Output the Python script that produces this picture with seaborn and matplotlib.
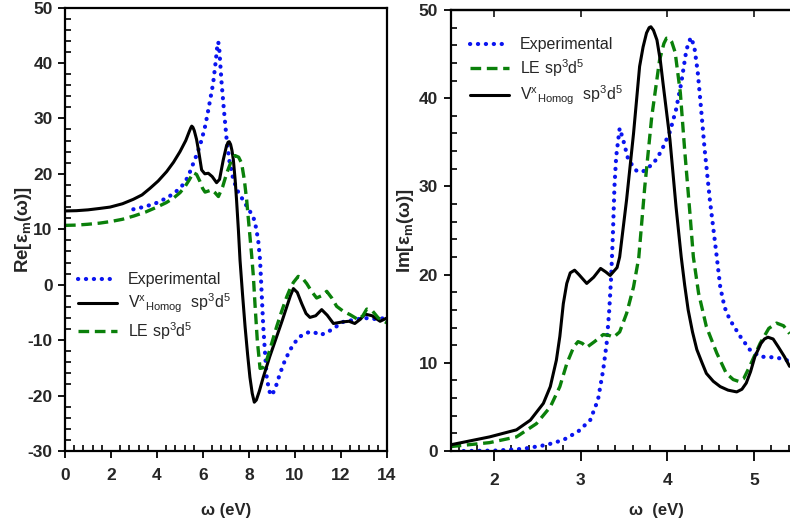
import numpy as np
import pandas as pd
import matplotlib
matplotlib.use("Agg")
from matplotlib import pyplot as plt
from matplotlib.ticker import MultipleLocator
import seaborn as sns

# ---- Re part (left panel) ----
re_exp_w = [2.97, 3.5, 3.98, 4.4, 4.71, 5.0, 5.22, 5.4, 5.58, 5.76, 5.94, 6.1, 6.23, 6.34, 6.44, 6.56,
            6.62, 6.66, 6.70, 6.74, 6.81, 6.91, 7.03, 7.15, 7.32, 7.52, 7.75, 8.0, 8.19, 8.3, 8.4, 8.48,
            8.55, 8.62, 8.7, 8.77, 8.88, 8.99, 9.15, 9.35, 9.55, 9.78, 10.0, 10.2, 10.45, 10.65, 10.85,
            11.09, 11.4, 11.67, 12.1, 12.5, 13.0, 13.5, 14.0]
re_exp = [13.6, 14.1, 14.75, 15.6, 16.4, 17.4, 18.5, 20.0, 21.9, 23.8, 26.1, 28.7, 31.5, 34.0, 36.3, 40.5,
          43.0, 43.8, 43.0, 40.5, 36.3, 31.5, 26.1, 22.3, 18.9, 16.8, 15.2, 13.5, 12.2, 10.4, 8.0, 4.5,
          -1.5, -7.6, -12.5, -16.7, -19.2, -20.0, -18.6, -16.0, -13.8, -11.8, -10.4, -9.4, -8.8, -8.5, -8.6,
          -9.1, -8.6, -7.9, -6.7, -6.4, -6.0, -6.2, -6.0]

re_vx_w = [0.0, 0.5, 1.0, 1.5, 1.96, 2.5, 2.97, 3.35, 3.7, 4.05, 4.42, 4.72, 5.0, 5.25, 5.4, 5.47, 5.51,
           5.56, 5.62, 5.72, 5.83, 5.94, 6.08, 6.23, 6.4, 6.59, 6.72, 6.88, 7.02, 7.09, 7.14, 7.2, 7.26,
           7.32, 7.4, 7.46, 7.54, 7.61, 7.72, 7.83, 7.94, 8.04, 8.14, 8.23, 8.32, 8.45, 8.62, 8.9, 9.2,
           9.45, 9.64, 9.8, 9.93, 10.1, 10.29, 10.48, 10.65, 10.9, 11.16, 11.4, 11.67, 12.1, 12.35, 12.6,
           12.85, 13.04, 13.35, 13.7, 14.0]
re_vx = [13.3, 13.35, 13.5, 13.75, 14.0, 14.6, 15.4, 16.2, 17.4, 18.7, 20.4, 22.1, 24.0, 26.0, 27.6, 28.3,
         28.6, 28.4, 27.8, 26.2, 23.6, 20.7, 20.0, 20.1, 19.5, 18.4, 19.0, 22.5, 25.0, 25.7, 25.8, 25.3, 24.2,
         22.5, 18.8, 15.2, 9.8, 4.4, -1.8, -7.6, -12.6, -16.7, -19.6, -21.2, -20.8, -19.2, -16.7, -13.0, -9.4,
         -6.4, -4.0, -2.0, -0.7, -1.4, -3.4, -5.2, -5.9, -5.6, -4.5, -5.5, -7.0, -6.7, -6.6, -7.0,
         -6.2, -5.3, -5.6, -6.6, -6.0]

re_le_w = [0.0, 0.5, 1.0, 1.5, 2.0, 2.5, 3.0, 3.5, 4.0, 4.4, 4.71, 5.0, 5.22, 5.4, 5.58, 5.72, 5.87, 5.98,
           6.09, 6.24, 6.38, 6.52, 6.67, 6.85, 7.03, 7.22, 7.39, 7.55, 7.68, 7.8, 7.9, 8.0, 8.12, 8.19,
           8.26, 8.36, 8.48, 8.6, 8.77, 9.0, 9.2, 9.42, 9.64, 9.8, 9.93, 10.14, 10.32, 10.51, 10.72,
           10.94, 11.15, 11.38, 11.6, 11.81, 12.1, 12.39, 12.75, 12.95, 13.12, 13.38, 13.62, 14.0]
re_le = [10.7, 10.75, 10.9, 11.1, 11.4, 11.8, 12.4, 13.1, 14.0, 14.8, 15.6, 16.6, 17.7, 18.9, 20.2, 19.9, 18.6, 17.4,
         16.7, 16.9, 17.1, 16.6, 15.9, 17.6, 20.1, 22.2, 23.3, 23.0, 21.9, 18.8, 15.2, 10.6, 5.1, 1.5,
         -3.5, -10.0, -15.1, -15.0, -13.6, -10.4, -7.6, -4.8, -2.2, -0.6, 0.4, 1.5, 1.2, 0.2, -1.2,
         -2.4, -2.0, -1.2, -2.4, -3.9, -4.8, -5.4, -6.3, -5.6, -4.4, -4.8, -6.0, -6.9]

# ---- Im part (right panel) ----
im_exp_w = [1.65, 2.03, 2.34, 2.61, 2.8, 2.97, 3.11, 3.2, 3.26, 3.3, 3.33, 3.35, 3.37, 3.39, 3.41, 3.45,
            3.49, 3.55, 3.65, 3.72, 3.84, 3.93, 4.03, 4.1, 4.16, 4.22, 4.27, 4.31, 4.35, 4.38, 4.43,
            4.49, 4.57, 4.61, 4.66, 4.72, 4.84, 4.95, 5.07, 5.26, 5.41]
im_exp = [0.0, 0.05, 0.25, 0.7, 1.25, 2.2, 3.5, 5.8, 9.2, 12.2, 16.0, 19.4, 24.0, 30.0, 33.4, 36.6,
          35.3, 33.0, 31.7, 31.7, 32.6, 34.0, 36.2, 38.7, 41.7, 45.5, 46.9, 45.9, 43.0, 39.8, 34.2,
          28.5, 22.0, 18.6, 16.3, 14.9, 13.0, 11.5, 10.7, 10.6, 10.2]

im_le_w = [1.5, 1.95, 2.26, 2.49, 2.65, 2.76, 2.84, 2.92, 2.97, 3.02, 3.07, 3.16, 3.26, 3.33, 3.38, 3.45,
           3.53, 3.61, 3.67, 3.74, 3.82, 3.91, 3.96, 3.99, 4.02, 4.05, 4.09, 4.15, 4.2, 4.26, 4.3, 4.36,
           4.45, 4.57, 4.68, 4.76, 4.82, 4.88, 4.95, 5.07, 5.17, 5.26, 5.34, 5.41]
im_le = [0.5, 0.95, 1.6, 3.1, 5.0, 7.3, 9.9, 11.8, 12.4, 12.2, 11.75, 12.4, 13.2, 13.1, 12.9, 13.5,
         15.6, 18.6, 21.9, 30.0, 37.9, 44.3, 46.2, 46.8, 46.8, 46.4, 45.2, 40.6, 34.1, 27.0, 22.0, 17.9,
         14.1, 11.1, 8.8, 8.1, 7.9, 8.2, 9.6, 12.2, 13.9, 14.5, 14.2, 13.3]

im_vx_w = [1.5, 1.95, 2.26, 2.42, 2.57, 2.65, 2.72, 2.76, 2.8, 2.84, 2.88, 2.93, 2.98, 3.07, 3.15, 3.23,
           3.29, 3.34, 3.42, 3.45, 3.53, 3.61, 3.68, 3.72, 3.76, 3.79, 3.81, 3.84, 3.88, 3.92, 3.95, 4.03,
           4.1, 4.16, 4.2, 4.24, 4.29, 4.34, 4.4, 4.45, 4.53, 4.61, 4.7, 4.8, 4.86, 4.91, 4.96, 5.01,
           5.08, 5.12, 5.16, 5.22, 5.28, 5.35, 5.41]
im_vx = [0.7, 1.6, 2.4, 3.5, 5.4, 7.3, 10.3, 13.0, 16.7, 19.0, 20.2, 20.5, 20.0, 19.0, 19.7, 20.7,
         20.3, 19.9, 20.8, 22.0, 28.5, 36.0, 43.6, 45.8, 47.4, 48.0, 48.1, 47.7, 46.6, 44.2, 41.7, 35.3,
         27.7, 22.0, 18.8, 16.0, 13.5, 11.5, 10.0, 8.8, 7.9, 7.3, 6.9, 6.7, 7.0, 7.7, 9.0, 10.7,
         12.2, 12.7, 12.9, 12.7, 11.8, 10.7, 9.6]

lab_exp = "Experimental"
lab_vx = "V$^{\\mathrm{x}}$$_{\\mathrm{Homog}}$  sp$^{3}$d$^{5}$"
lab_le = "LE sp$^{3}$d$^{5}$"

c_exp = "#0a14f0"
c_le = "#0a800a"
c_vx = "black"

sns.set_style("white")
plt.rcParams["font.family"] = ["Liberation Sans", "DejaVu Sans"]
plt.rcParams["axes.unicode_minus"] = False
plt.rcParams["mathtext.fontset"] = "custom"
plt.rcParams["mathtext.rm"] = "Liberation Sans"
plt.rcParams["mathtext.it"] = "Liberation Sans:italic"
plt.rcParams["mathtext.bf"] = "Liberation Sans:bold"

dot = dict(linestyle=(0, (0.05, 1.85)), dash_capstyle="round", lw=3.0, color=c_exp)
dash = dict(linestyle=(0, (3.2, 1.7)), lw=2.4, color=c_le)
solid = dict(linestyle="-", lw=2.2, color=c_vx)

fig = plt.figure(figsize=(7.9, 5.19), dpi=100)
W, H = 790, 519
ax1 = fig.add_axes([65 / W, 1 - 451 / H, (387 - 65) / W, (451 - 7.5) / H])
ax2 = fig.add_axes([450.6 / W, 1 - 451 / H, 346.8 / W, (451 - 10) / H])

# left: real part
sns.lineplot(x=re_exp_w, y=re_exp, ax=ax1, label=lab_exp, **dot)
sns.lineplot(x=re_vx_w, y=re_vx, ax=ax1, label=lab_vx, **solid)
sns.lineplot(x=re_le_w, y=re_le, ax=ax1, label=lab_le, **dash)

# right: imaginary part
sns.lineplot(x=im_exp_w, y=im_exp, ax=ax2, label=lab_exp, **dot)
sns.lineplot(x=im_le_w, y=im_le, ax=ax2, label=lab_le, **dash)
sns.lineplot(x=im_vx_w, y=im_vx, ax=ax2, label=lab_vx, **solid)

ax1.set_xlim(0, 14)
ax1.set_ylim(-30, 50)
ax2.set_xlim(1.5, 5.5)
ax2.set_ylim(0, 50)

ax1.xaxis.set_major_locator(MultipleLocator(2))
ax1.xaxis.set_minor_locator(MultipleLocator(0.4))
ax1.yaxis.set_major_locator(MultipleLocator(10))
ax1.yaxis.set_minor_locator(MultipleLocator(2))
ax2.xaxis.set_major_locator(MultipleLocator(1))
ax2.xaxis.set_minor_locator(MultipleLocator(0.2))
ax2.yaxis.set_major_locator(MultipleLocator(10))
ax2.yaxis.set_minor_locator(MultipleLocator(2))

for ax in (ax1, ax2):
    for s in ax.spines.values():
        s.set_linewidth(1.6)
        s.set_color("black")
    ax.tick_params(which="major", direction="out", length=5, width=1.3, color="black",
                   labelsize=12.5, pad=4, bottom=True, left=True, top=False, right=False)
    ax.tick_params(which="minor", direction="in", length=4, width=1.2, color="black",
                   bottom=True, left=True, top=False, right=False)
    for t in ax.get_xticklabels() + ax.get_yticklabels():
        t.set_fontweight("bold")

ax1.tick_params(axis="x", which="major", pad=7)
ax2.tick_params(axis="x", which="major", length=7.5, pad=8)
ax2.spines["right"].set_visible(False)
top = ax2.secondary_xaxis("top")
top.xaxis.set_major_locator(MultipleLocator(1))
top.tick_params(direction="in", length=5, width=1.3, labeltop=False)
top.spines["top"].set_linewidth(1.6)

ax1.set_xlabel("ω (eV)", fontsize=12, fontweight="bold")
ax1.set_ylabel("Re[ε$_{\\mathbf{m}}$(ω)]", fontsize=13.5, fontweight="bold")
ax2.set_xlabel("ω  (eV)", fontsize=12, fontweight="bold")
ax2.set_ylabel("Im[ε$_{\\mathbf{m}}$(ω)]", fontsize=13.5, fontweight="bold")
ax1.xaxis.set_label_coords(0.5, -0.117)
ax1.yaxis.set_label_coords(-0.095, 0.5)
ax2.xaxis.set_label_coords(0.594, -0.118)
ax2.yaxis.set_label_coords(-0.10, 0.5)

leg_kw = dict(frameon=False, fontsize=11.5, handlelength=2.45, handletextpad=0.7,
              labelspacing=0.3, borderpad=0, borderaxespad=0, loc="upper left")
ax1.legend(bbox_to_anchor=(0.04, 0.403), **leg_kw)
ax2.legend(bbox_to_anchor=(0.055, 0.938), **leg_kw)

fig.savefig("out.png", dpi=100)
